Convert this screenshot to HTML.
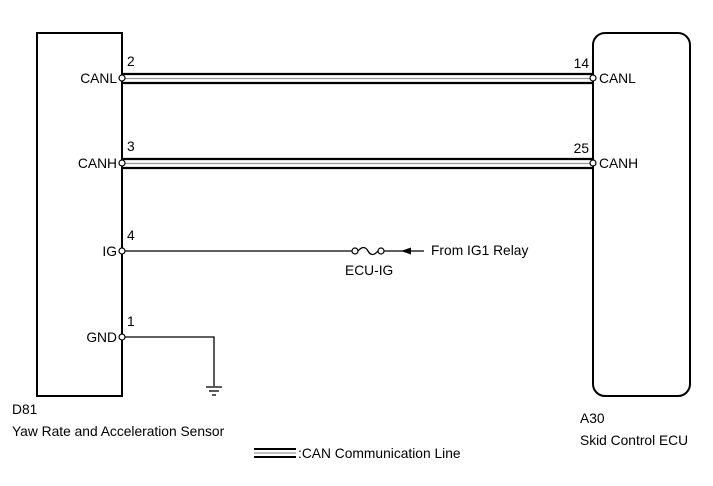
<!DOCTYPE html>
<html><head><style>
body{margin:0;background:#fff;}
svg text{font-family:"Liberation Sans",Arial,sans-serif;font-size:13.8px;fill:#000;}
</style></head><body>
<svg width="713" height="481" viewBox="0 0 713 481" xmlns="http://www.w3.org/2000/svg">
<rect x="37" y="33" width="85" height="363" fill="none" stroke="#000" stroke-width="2"/>
<rect x="593" y="33" width="97" height="363" rx="12" fill="none" stroke="#000" stroke-width="2"/>
<g stroke="#000" stroke-width="2.2">
<line x1="122" y1="74" x2="593" y2="74"/><line x1="122" y1="83" x2="593" y2="83"/>
<line x1="122" y1="159" x2="593" y2="159"/><line x1="122" y1="168" x2="593" y2="168"/>
</g>
<g stroke="#999" stroke-width="1.2">
<line x1="122" y1="78.5" x2="593" y2="78.5"/><line x1="122" y1="163.5" x2="593" y2="163.5"/>
</g>
<line x1="122" y1="251" x2="352" y2="251" stroke="#000" stroke-width="1.3"/>
<path d="M358 251 Q364 244 368 251 Q372 258 378 251" fill="none" stroke="#000" stroke-width="1.3"/>
<line x1="384" y1="251" x2="424" y2="251" stroke="#000" stroke-width="1.3"/>
<polygon points="401,251 411,247.5 411,254.5" fill="#000"/>
<polyline points="122,337 214,337 214,386" fill="none" stroke="#000" stroke-width="1.3"/>
<g stroke="#000" stroke-width="1.3">
<line x1="206" y1="387" x2="222" y2="387"/><line x1="209" y1="391" x2="219" y2="391"/><line x1="212" y1="395" x2="216" y2="395"/>
</g>
<g fill="#fff" stroke="#000" stroke-width="1.2">
<circle cx="122" cy="78" r="3"/><circle cx="122" cy="163" r="3"/><circle cx="122" cy="251" r="3"/><circle cx="122" cy="337" r="3"/>
<circle cx="593" cy="78" r="3"/><circle cx="593" cy="163" r="3"/>
<circle cx="355" cy="251" r="3"/><circle cx="381" cy="251" r="3"/>
</g>
<text x="127" y="66">2</text><text x="127" y="151">3</text><text x="127" y="240">4</text><text x="127" y="326">1</text>
<text x="117" y="83" text-anchor="end">CANL</text><text x="117" y="168" text-anchor="end">CANH</text>
<text x="117" y="256" text-anchor="end">IG</text><text x="117" y="342" text-anchor="end">GND</text>
<text x="589" y="68" text-anchor="end">14</text><text x="589" y="153" text-anchor="end">25</text>
<text x="599" y="83">CANL</text><text x="599" y="168">CANH</text>
<text x="345" y="275">ECU-IG</text>
<text x="431" y="255">From IG1 Relay</text>
<text x="12" y="414">D81</text>
<text x="12" y="436">Yaw Rate and Acceleration Sensor</text>
<text x="580" y="423">A30</text>
<text x="580" y="445">Skid Control ECU</text>
<g stroke="#000" stroke-width="2"><line x1="254" y1="449" x2="296" y2="449"/><line x1="254" y1="457" x2="296" y2="457"/></g>
<line x1="254" y1="453" x2="296" y2="453" stroke="#999" stroke-width="1.2"/>
<text x="298" y="458">:CAN Communication Line</text>
</svg>
</body></html>
